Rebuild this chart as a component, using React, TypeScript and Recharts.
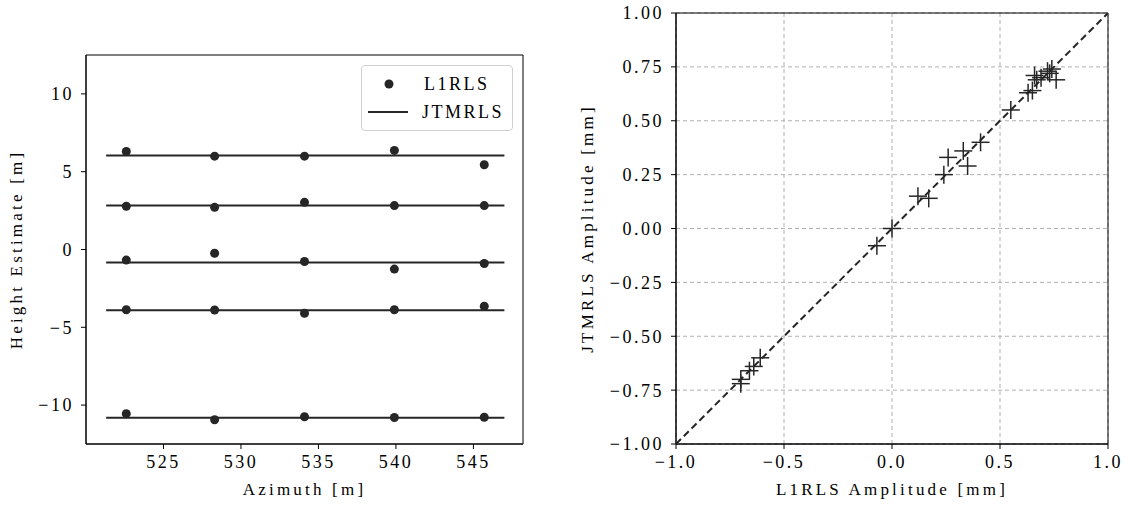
import {
  ScatterChart,
  Scatter,
  XAxis,
  YAxis,
  CartesianGrid,
  ReferenceArea,
  Legend,
} from "recharts"

// left panel: height estimates along azimuth
const AZIMUTH = [522.6, 528.3, 534.1, 539.9, 545.7]
const L1RLS_HEIGHTS = [
  [6.3, 6.0, 6.0, 6.37, 5.45],
  [2.78, 2.71, 3.03, 2.82, 2.82],
  [-0.68, -0.24, -0.77, -1.26, -0.9],
  [-3.87, -3.89, -4.1, -3.87, -3.65],
  [-10.55, -10.94, -10.75, -10.8, -10.78],
]
const JTMRLS_HEIGHTS = [6.04, 2.83, -0.83, -3.9, -10.81]
const LINE_SPAN = [521.3, 547.0]
const AZ_TICKS = [525, 530, 535, 540, 545]
const HEIGHT_TICKS = [-10, -5, 0, 5, 10]

// right panel: amplitude comparison
const L1RLS_AMP = [
  -0.7, -0.7, -0.66, -0.64, -0.61, -0.07, 0.0, 0.12, 0.17, 0.24, 0.26, 0.33,
  0.35, 0.41, 0.55, 0.63, 0.65, 0.66, 0.67, 0.69, 0.72, 0.73, 0.76, 0.74,
]
const JTMRLS_AMP = [
  -0.7, -0.72, -0.66, -0.64, -0.6, -0.08, 0.0, 0.15, 0.14, 0.25, 0.33, 0.36,
  0.29, 0.4, 0.55, 0.63, 0.64, 0.71, 0.69, 0.7, 0.73, 0.72, 0.69, 0.74,
]
const AMP_X_TICKS = [-1, -0.5, 0, 0.5, 1]
const AMP_Y_TICKS = [-1, -0.75, -0.5, -0.25, 0, 0.25, 0.5, 0.75, 1]

const INK = "#262626"
const FONT = "'Liberation Serif', 'DejaVu Serif', serif"
const tickStyle = { fontFamily: FONT, fontSize: 18, fill: "#000", letterSpacing: 2.5 }
const labelStyle = { fontFamily: FONT, fontSize: 17, fill: "#000", letterSpacing: 3.2, textAnchor: "middle" as const }

const minus = (s: string) => s.replace("-", "\u2212")

const dotShape = (p: any) => <circle cx={p.cx} cy={p.cy} r={4.5} fill={INK} />
const crossShape = (p: any) => (
  <g stroke={INK} strokeWidth={1.5}>
    <line x1={p.cx - 9} y1={p.cy} x2={p.cx + 9} y2={p.cy} />
    <line x1={p.cx} y1={p.cy - 9} x2={p.cx} y2={p.cy + 9} />
  </g>
)
const noShape = () => <g />

const points = L1RLS_HEIGHTS.flatMap((row) => row.map((h, i) => ({ x: AZIMUTH[i], y: h })))
const lines = JTMRLS_HEIGHTS.map((h) => LINE_SPAN.map((x) => ({ x, y: h })))
const amps = L1RLS_AMP.map((a, i) => ({ x: a, y: JTMRLS_AMP[i] }))
const diagonal = [{ x: -1, y: -1 }, { x: 1, y: 1 }]

function HeightLegend() {
  return (
    <div
      style={{
        border: "1px solid #d0d0d0",
        borderRadius: 4,
        padding: "4px 8px 4px 6px",
        background: "#fff",
        fontFamily: FONT,
        fontSize: 18,
        letterSpacing: 2.5,
        lineHeight: "28px",
      }}
    >
      <div style={{ display: "flex", alignItems: "center" }}>
        <svg width={42} height={20}>
          <circle cx={21} cy={10} r={4.5} fill={INK} />
        </svg>
        <span style={{ marginLeft: 14 }}>L1RLS</span>
      </div>
      <div style={{ display: "flex", alignItems: "center" }}>
        <svg width={42} height={20}>
          <line x1={0} y1={10} x2={42} y2={10} stroke={INK} strokeWidth={2} />
        </svg>
        <span style={{ marginLeft: 14 }}>JTMRLS</span>
      </div>
    </div>
  )
}

export default function App() {
  return (
    <div style={{ position: "absolute", left: 0, top: 0, width: 1126, height: 506, background: "#fff" }}>
      <div style={{ position: "absolute", left: 0, top: 0 }}>
        <ScatterChart width={560} height={506} margin={{ top: 55, right: 37, bottom: 32, left: 26 }}>
          <XAxis
            type="number"
            dataKey="x"
            domain={[520, 548.2]}
            ticks={AZ_TICKS}
            allowDataOverflow
            tick={tickStyle}
            tickSize={5}
            tickMargin={6}
            height={30}
            stroke="#000"
            label={{ value: "Azimuth [m]", position: "bottom", offset: 9, style: labelStyle }}
          />
          <YAxis
            type="number"
            dataKey="y"
            domain={[-12.5, 12.5]}
            ticks={HEIGHT_TICKS}
            allowDataOverflow
            tick={tickStyle}
            tickSize={5}
            tickMargin={7}
            width={60}
            stroke="#000"
            tickFormatter={(v: number) => minus(String(v))}
            label={{ value: "Height Estimate [m]", angle: -90, position: "insideLeft", offset: -10, style: labelStyle }}
          />
          <ReferenceArea x1={520} x2={548.2} y1={-12.5} y2={12.5} fill="none" stroke="#000" strokeOpacity={1} />
          {lines.map((seg, i) => (
            <Scatter
              key={i}
              data={seg}
              line={{ stroke: INK, strokeWidth: 2 }}
              shape={noShape}
              isAnimationActive={false}
            />
          ))}
          <Scatter data={points} shape={dotShape} isAnimationActive={false} />
          <Legend
            layout="horizontal"
            verticalAlign="middle"
            align="center"
            content={() => <HeightLegend />}
            wrapperStyle={{ position: "absolute", top: 65, left: 361, width: 152, height: "auto" }}
          />
        </ScatterChart>
      </div>
      <div style={{ position: "absolute", left: 560, top: 0 }}>
        <ScatterChart width={566} height={506} margin={{ top: 13, right: 18, bottom: 32, left: 56 }}>
          <CartesianGrid stroke="#b0b0b0" strokeDasharray="4 3" />
          <XAxis
            type="number"
            dataKey="x"
            domain={[-1, 1]}
            ticks={AMP_X_TICKS}
            allowDataOverflow
            tick={tickStyle}
            tickSize={5}
            tickMargin={6}
            height={30}
            stroke="#000"
            tickFormatter={(v: number) => minus(v.toFixed(1))}
            label={{ value: "L1RLS Amplitude [mm]", position: "bottom", offset: 9, style: labelStyle }}
          />
          <YAxis
            type="number"
            dataKey="y"
            domain={[-1, 1]}
            ticks={AMP_Y_TICKS}
            allowDataOverflow
            tick={tickStyle}
            tickSize={5}
            tickMargin={7}
            width={60}
            stroke="#000"
            tickFormatter={(v: number) => minus(v.toFixed(2))}
            label={{ value: "JTMRLS Amplitude [mm]", angle: -90, position: "insideLeft", offset: -29, style: labelStyle }}
          />
          <ReferenceArea x1={-1} x2={1} y1={-1} y2={1} fill="none" stroke="#000" strokeOpacity={1} />
          <Scatter
            data={diagonal}
            line={{ stroke: INK, strokeWidth: 2, strokeDasharray: "7 4" }}
            shape={noShape}
            isAnimationActive={false}
          />
          <Scatter data={amps} shape={crossShape} isAnimationActive={false} />
        </ScatterChart>
      </div>
    </div>
  )
}
